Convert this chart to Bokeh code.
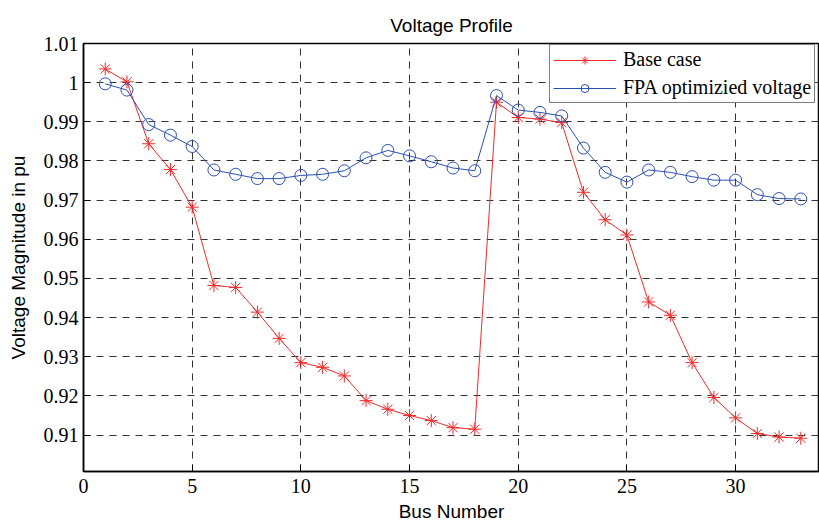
from bokeh.plotting import figure
from bokeh.models import Legend, LegendItem, Range1d, FixedTicker
from bokeh.embed import file_html
from bokeh.resources import INLINE

bus = list(range(1, 34))
base_case = [1.0035, 1.0002, 0.9844, 0.9778, 0.9682, 0.9482, 0.9477, 0.9414, 0.9347,
             0.9285, 0.9273, 0.9251, 0.9188, 0.9166, 0.9150, 0.9137, 0.9119, 0.9115,
             0.9950, 0.9911, 0.9907, 0.9898, 0.9720, 0.9650, 0.9611, 0.9440, 0.9406,
             0.9285, 0.9196, 0.9144, 0.9104, 0.9095, 0.9092]
fpa_voltage = [0.9997, 0.9981, 0.9893, 0.9866, 0.9837, 0.9777, 0.9766, 0.9755, 0.9755,
               0.9763, 0.9766, 0.9775, 0.9808, 0.9827, 0.9813, 0.9798, 0.9782, 0.9775,
               0.9967, 0.9930, 0.9924, 0.9915, 0.9833, 0.9771, 0.9746, 0.9777, 0.9771,
               0.9760, 0.9751, 0.9751, 0.9714, 0.9704, 0.9703]
x_ticks = [0, 5, 10, 15, 20, 25, 30]
y_ticks = [0.91, 0.92, 0.93, 0.94, 0.95, 0.96, 0.97, 0.98, 0.99, 1.0, 1.01]
y_tick_labels = {0.91: "0.91", 0.92: "0.92", 0.93: "0.93", 0.94: "0.94", 0.95: "0.95",
                 0.96: "0.96", 0.97: "0.97", 0.98: "0.98", 0.99: "0.99", 1.0: "1", 1.01: "1.01"}

RED = "#f22a2a"
BLUE = "#2c4fb3"
SERIF = "Liberation Serif"
SANS = "Liberation Sans"

W, H = 819, 524
FL, FT, FB = 83, 43, 48  # frame borders

p = figure(width=W, height=H, output_backend="svg", toolbar_location=None,
           x_range=Range1d(0, 33.86), y_range=Range1d(0.9007, 1.01),
           min_border_left=FL, min_border_right=0, min_border_top=FT, min_border_bottom=FB,
           title="Voltage Profile")
p.title.align = "center"
p.title.text_font = SANS
p.title.text_font_size = "19px"
p.title.text_font_style = "normal"
p.title.text_color = "black"
p.title.standoff = 15

p.background_fill_color = "white"
p.border_fill_color = "white"
p.outline_line_color = "black"
p.outline_line_width = 1.5

p.xaxis.ticker = FixedTicker(ticks=x_ticks)
p.yaxis.ticker = FixedTicker(ticks=y_ticks)
p.yaxis.major_label_overrides = y_tick_labels
for ax in (p.xaxis[0], p.yaxis[0]):
    ax.major_label_text_font = SERIF
    ax.major_label_text_font_size = "20px"
    ax.major_label_text_color = "black"
    ax.axis_label_text_font = SANS
    ax.axis_label_text_font_size = "19px"
    ax.axis_label_text_font_style = "normal"
    ax.axis_label_text_color = "black"
    ax.major_tick_in = 7
    ax.major_tick_out = 0
    ax.minor_tick_line_color = None
    ax.axis_line_color = "black"
    ax.axis_line_width = 1.5
    ax.major_tick_line_color = "black"
p.xaxis.axis_label = "Bus Number"
p.yaxis.axis_label = "Voltage Magnitude in pu"
p.xaxis.major_label_standoff = 7
p.xaxis.axis_label_standoff = 5
p.yaxis.major_label_standoff = 5
p.yaxis.axis_label_standoff = 12

p.grid.grid_line_color = "black"
p.grid.grid_line_dash = "7 6"
p.grid.grid_line_width = 1
p.grid.grid_line_alpha = 0.8

r_line = p.line(bus, base_case, line_color=RED, line_width=1)
r_mark = p.scatter(bus, base_case, marker="asterisk", size=13, line_color=RED, line_width=1)
b_line = p.line(bus, fpa_voltage, line_color=BLUE, line_width=1)
b_mark = p.scatter(bus, fpa_voltage, marker="circle", size=12, line_color=BLUE,
                   fill_color=None, line_width=1)

legend = Legend(items=[LegendItem(label="Base case", renderers=[r_line, r_mark]),
                       LegendItem(label="FPA optimizied voltage", renderers=[b_line, b_mark])],
                location=(466, 368))
legend.label_text_font = SERIF
legend.label_text_font_size = "20px"
legend.label_text_color = "black"
legend.glyph_width = 63
legend.glyph_height = 20
legend.label_height = 20
legend.label_standoff = 7
legend.spacing = 5
legend.padding = 3
legend.margin = 0
legend.border_line_color = "black"
legend.border_line_width = 1.5
legend.background_fill_alpha = 1
p.add_layout(legend, "center")

open("out.html", "w").write(file_html(p, INLINE))
